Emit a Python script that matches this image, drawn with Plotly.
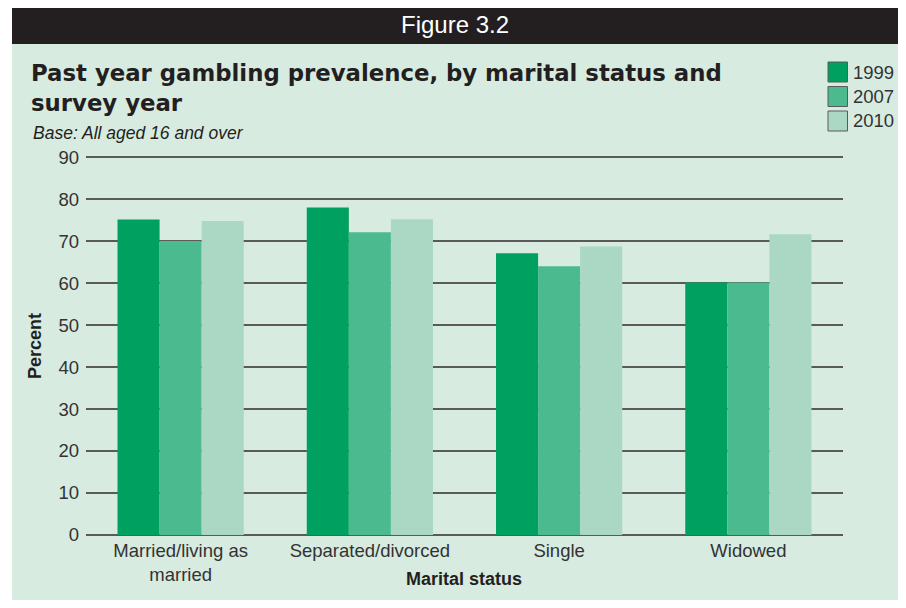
import plotly.graph_objects as go

categories = ["Married/living as<br>married", "Separated/divorced", "Single", "Widowed"]
years = ["1999", "2007", "2010"]
values_1999 = [75.1, 78.0, 67.1, 60.1]
values_2007 = [70.0, 72.1, 64.0, 60.1]
values_2010 = [74.8, 75.2, 68.7, 71.6]
colors = ["#00a160", "#4bbb8f", "#aad8c4"]

# page has an 8px body margin, so the figure is drawn 8px in from the window corner
OFF = 8
W, H = 890, 592
L, T = 78, 148
pw, ph = 757, 379
R, B = W - L - pw, H - T - ph
Y_TOP = 90.25


def px_x(p):
    return (p - OFF - L) / pw


def px_y(p):
    return (T + ph - (p - OFF)) / ph


fig = go.Figure()
for name, vals, col in zip(years, [values_1999, values_2007, values_2010], colors):
    fig.add_trace(go.Bar(x=categories, y=vals, name=name,
                         marker=dict(color=col, line=dict(width=0))))

font = "Liberation Sans, Arial, sans-serif"
ink = "#231f20"

shapes = [
    dict(type="rect", xref="paper", yref="paper", layer="below",
         x0=px_x(12), x1=px_x(920), y0=px_y(606), y1=px_y(44),
         fillcolor="#d7ebe0", line=dict(width=0)),
    dict(type="rect", xref="paper", yref="paper", layer="below",
         x0=px_x(12), x1=px_x(920), y0=px_y(44), y1=px_y(0),
         fillcolor="#231f20", line=dict(width=0)),
]
annotations = [
    dict(text="Figure 3.2", xref="paper", yref="paper", x=px_x(455), y=px_y(25),
         xanchor="center", yanchor="middle",
         showarrow=False, font=dict(size=24, color="white", family=font)),
    dict(text="<b>Past year gambling prevalence, by marital status and<br>survey year</b>",
         xref="paper", yref="paper", x=px_x(29), y=px_y(58), xanchor="left", yanchor="top",
         align="left", showarrow=False,
         font=dict(size=22.8, color=ink, family="DejaVu Sans, sans-serif")),
    dict(text="<i>Base: All aged 16 and over</i>", xref="paper", yref="paper",
         x=px_x(31), y=px_y(133), xanchor="left", yanchor="middle",
         showarrow=False, font=dict(size=17.5, color=ink, family=font)),
    dict(text="<b>Percent</b>", xref="paper", yref="paper", x=px_x(35), y=px_y(346),
         xanchor="center", yanchor="middle",
         textangle=-90, showarrow=False, font=dict(size=18, color=ink, family=font)),
    dict(text="<b>Marital status</b>", xref="paper", yref="paper", x=px_x(464), y=px_y(579),
         xanchor="center", yanchor="middle",
         showarrow=False, font=dict(size=18, color=ink, family=font)),
]

# key in the top right corner, drawn as outlined swatches
for i, (name, col) in enumerate(zip(years, colors)):
    cy = 72 + i * 24.5
    shapes.append(dict(type="rect", xref="paper", yref="paper",
                       x0=px_x(828), x1=px_x(847.5), y0=px_y(cy + 10), y1=px_y(cy - 10),
                       fillcolor=col, line=dict(color="#5a5a5a", width=1)))
    annotations.append(dict(text=name, xref="paper", yref="paper", x=px_x(851), y=px_y(cy),
                            xanchor="left", yanchor="middle", showarrow=False,
                            font=dict(size=18.5, color="#333333", family=font)))

fig.update_layout(
    width=W, height=H,
    margin=dict(l=L, r=R, t=T, b=B),
    paper_bgcolor="white",
    plot_bgcolor="rgba(0,0,0,0)",
    barmode="group", bargap=0.333, bargroupgap=0,
    font=dict(family=font, size=18.5, color="#333333"),
    showlegend=False,
    shapes=shapes,
    annotations=annotations,
)

fig.update_yaxes(range=[0, Y_TOP], tickvals=list(range(0, 100, 10)), showgrid=True,
                 gridcolor="#5a5a5a", gridwidth=1.5,
                 zeroline=True, zerolinecolor="#5a5a5a", zerolinewidth=1.5,
                 showline=False, ticks="", ticklabelstandoff=6,
                 tickfont=dict(size=18.5, color="#333333"))
fig.update_xaxes(showgrid=False, showline=False, ticks="", ticklabelstandoff=2,
                 tickfont=dict(size=18.5, color="#333333"))

fig.write_html("out.html")
